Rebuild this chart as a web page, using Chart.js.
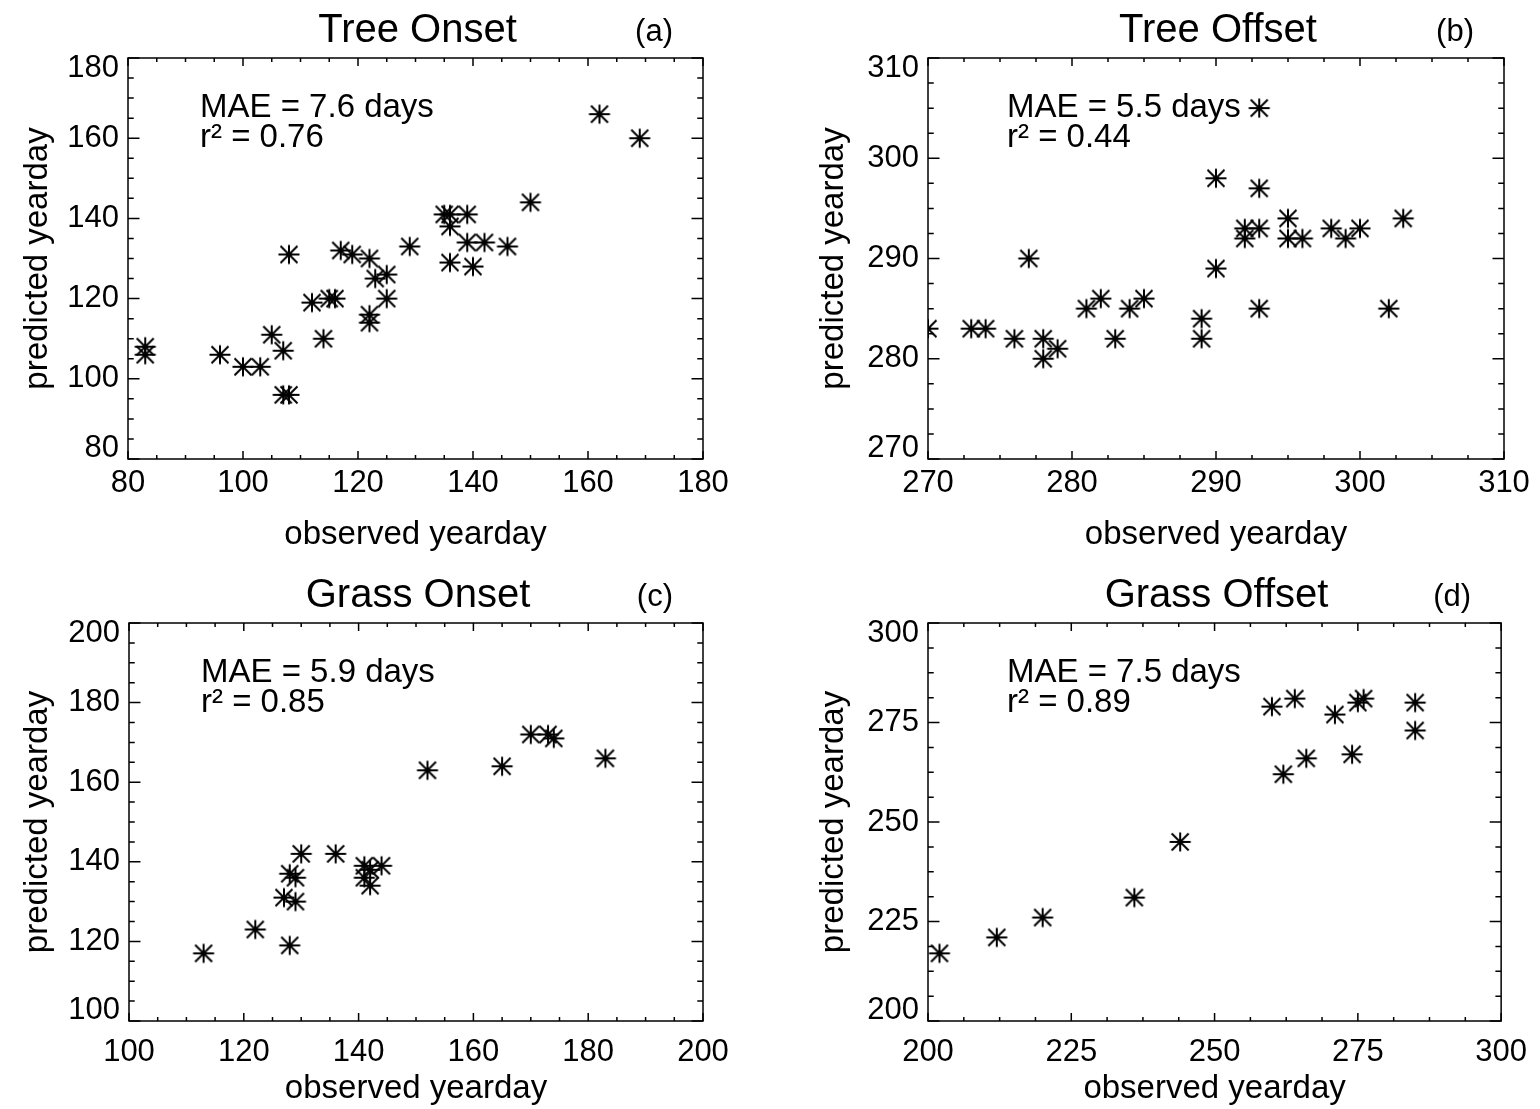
<!DOCTYPE html>
<html>
<head>
<meta charset="utf-8">
<script src="https://cdn.jsdelivr.net/npm/chart.js@4.4.1/dist/chart.umd.min.js"></script>
<style>
  body { margin: 0; background: #fff; width: 1540px; height: 1109px; overflow: hidden; position: relative; }
  canvas { position: absolute; }
</style>
</head>
<body>
<canvas id="treeOnset" width="770" height="555" style="left:0;top:0"></canvas>
<canvas id="treeOffset" width="770" height="555" style="left:770px;top:0"></canvas>
<canvas id="grassOnset" width="770" height="554" style="left:0;top:555px"></canvas>
<canvas id="grassOffset" width="770" height="554" style="left:770px;top:555px"></canvas>
<script>
// observed vs predicted yeardays
const treeOnsetObs  = [83, 83, 96, 100, 103, 105, 107, 107, 108, 108, 112, 114, 115, 116, 117, 119, 122, 122, 122, 123, 125, 125, 129, 135, 136, 136, 136, 139, 139, 140, 142, 146, 150, 162, 169];
const treeOnsetPred = [108, 106, 106, 103, 103, 111, 107, 96, 96, 131, 119, 110, 120, 120, 132, 131, 130, 116, 114, 125, 126, 120, 133, 141, 141, 138, 129, 141, 134, 128, 134, 133, 144, 166, 160];

const treeOffsetObs  = [270, 273, 274, 276, 277, 278, 278, 279, 281, 282, 283, 284, 285, 289, 289, 290, 290, 292, 292, 293, 293, 293, 293, 295, 295, 296, 298, 299, 300, 302, 303];
const treeOffsetPred = [283, 283, 283, 282, 290, 282, 280, 281, 285, 286, 282, 285, 286, 284, 282, 298, 289, 293, 292, 293, 297, 285, 305, 294, 292, 292, 293, 292, 293, 285, 294];

const grassOnsetObs  = [113, 122, 127, 128, 128, 129, 129, 130, 136, 141, 141, 142, 142, 144, 152, 165, 170, 173, 174, 183];
const grassOnsetPred = [117, 123, 131, 137, 119, 136, 130, 142, 142, 139, 136, 138, 134, 139, 163, 164, 172, 172, 171, 166];

const grassOffsetObs  = [202, 212, 220, 236, 244, 260, 262, 264, 266, 271, 274, 275, 276, 285, 285];
const grassOffsetPred = [217, 221, 226, 231, 245, 279, 262, 281, 266, 277, 267, 280, 281, 280, 273];

const panelTitles  = ['Tree Onset', 'Tree Offset', 'Grass Onset', 'Grass Offset'];
const panelLetters = ['(a)', '(b)', '(c)', '(d)'];
const maeTexts     = ['MAE = 7.6 days', 'MAE = 5.5 days', 'MAE = 5.9 days', 'MAE = 7.5 days'];
const r2Texts      = ['r\u00B2 = 0.76', 'r\u00B2 = 0.44', 'r\u00B2 = 0.85', 'r\u00B2 = 0.89'];

// axis ranges and tick spacing (same for x and y in each panel)
const axisMin   = [80, 270, 100, 200];
const axisMax   = [180, 310, 200, 300];
const majorStep = [20, 10, 20, 25];
const minorStep = [5, 2.5, 5, 6.25];

const FONT = '"Liberation Sans", Arial, Helvetica, sans-serif';
Chart.defaults.font.family = FONT;
Chart.defaults.color = '#000';

// IDL style asterisk symbol
function asterisk() {
    let c = document.createElement('canvas');
    c.width = 24; c.height = 24;
    let g = c.getContext('2d');
    g.strokeStyle = '#000';
    g.lineWidth = 2;
    g.beginPath();
    g.moveTo(1.5, 12); g.lineTo(22.5, 12);
    g.moveTo(12, 2.5); g.lineTo(12, 21.5);
    g.moveTo(3.5, 3.5); g.lineTo(20.5, 20.5);
    g.moveTo(3.5, 20.5); g.lineTo(20.5, 3.5);
    g.stroke();
    return c;
}
const star = asterisk();

// frame with inward ticks on all four sides, y labels, titles and notes
const framePlugin = {
    id: 'frame',
    afterDraw(chart, args, o) {
        const {ctx, chartArea: a, scales: {x, y}} = chart;
        const w = a.right - a.left, h = a.bottom - a.top;
        ctx.save();
        ctx.strokeStyle = '#000';
        ctx.lineWidth = 1.5;
        ctx.strokeRect(a.left, a.top, w, h);

        ctx.beginPath();
        let n = Math.round((x.max - x.min) / o.minor);
        for (let i = 0; i <= n; i++) {
            let v = x.min + i * o.minor;
            let px = x.getPixelForValue(v);
            let len = (i % Math.round(o.major / o.minor) === 0) ? h * 0.02 : h * 0.01;
            ctx.moveTo(px, a.bottom); ctx.lineTo(px, a.bottom - len);
            ctx.moveTo(px, a.top); ctx.lineTo(px, a.top + len);
        }
        n = Math.round((y.max - y.min) / o.minor);
        for (let i = 0; i <= n; i++) {
            let v = y.min + i * o.minor;
            let py = y.getPixelForValue(v);
            let len = (i % Math.round(o.major / o.minor) === 0) ? w * 0.02 : w * 0.01;
            ctx.moveTo(a.left, py); ctx.lineTo(a.left + len, py);
            ctx.moveTo(a.right, py); ctx.lineTo(a.right - len, py);
        }
        ctx.stroke();

        ctx.fillStyle = '#000';
        // y tick labels, end labels kept inside the axis range
        ctx.font = '31px ' + FONT;
        ctx.textAlign = 'right';
        ctx.textBaseline = 'middle';
        y.ticks.forEach(t => {
            let py = y.getPixelForValue(t.value);
            py = Math.min(Math.max(py, a.top + 10), a.bottom - 11);
            ctx.fillText(String(t.value), a.left - 9, py);
        });

        ctx.textBaseline = 'alphabetic';
        ctx.textAlign = 'center';
        ctx.font = '40px ' + FONT;
        ctx.fillText(o.title, (a.left + a.right) / 2 + 2, a.top - 16);
        ctx.textAlign = 'right';
        ctx.font = '31px ' + FONT;
        ctx.fillText(o.letter, a.right - 30, a.top - 17);

        ctx.textAlign = 'left';
        ctx.font = '33px ' + FONT;
        ctx.fillText(o.mae, a.left + o.noteX, a.top + 59);
        ctx.fillText(o.r2, a.left + o.noteX, a.top + 89);
        ctx.restore();
    }
};

const panels = [
    {id: 'treeOnset',   obs: treeOnsetObs,   pred: treeOnsetPred,   padTop: 58, padRight: 67, yW: 128, xH: 96, yTitlePad: 18, xTickPad: 6,  noteX: 72},
    {id: 'treeOffset',  obs: treeOffsetObs,  pred: treeOffsetPred,  padTop: 58, padRight: 36, yW: 158, xH: 96, yTitlePad: 44, xTickPad: 6,  noteX: 79},
    {id: 'grassOnset',  obs: grassOnsetObs,  pred: grassOnsetPred,  padTop: 68, padRight: 67, yW: 129, xH: 88, yTitlePad: 18, xTickPad: 13, noteX: 72},
    {id: 'grassOffset', obs: grassOffsetObs, pred: grassOffsetPred, padTop: 68, padRight: 36, yW: 158, xH: 88, yTitlePad: 44, xTickPad: 13, noteX: 79}
];

panels.forEach((p, i) => {
    let ctx = document.getElementById(p.id).getContext('2d');
    new Chart(ctx, {
        type: 'scatter',
        data: {
            datasets: [{
                data: p.obs.map((v, k) => ({x: v, y: p.pred[k]})),
                pointStyle: star,
                pointRadius: 10,
                borderColor: '#000',
                clip: 0
            }]
        },
        options: {
            responsive: false,
            animation: false,
            devicePixelRatio: 1,
            events: [],
            layout: {padding: {left: 0, top: p.padTop, right: p.padRight, bottom: 0}},
            plugins: {
                legend: {display: false},
                tooltip: {enabled: false},
                frame: {
                    title: panelTitles[i], letter: panelLetters[i],
                    mae: maeTexts[i], r2: r2Texts[i],
                    major: majorStep[i], minor: minorStep[i], noteX: p.noteX
                }
            },
            scales: {
                x: {
                    type: 'linear', min: axisMin[i], max: axisMax[i],
                    afterFit: s => { s.height = p.xH; },
                    grid: {display: false, drawTicks: false},
                    border: {display: false},
                    ticks: {stepSize: majorStep[i], font: {size: 31}, color: '#000', padding: p.xTickPad, maxRotation: 0, autoSkip: false},
                    title: {display: true, text: 'observed yearday', font: {size: 33}, color: '#000', padding: 0}
                },
                y: {
                    type: 'linear', min: axisMin[i], max: axisMax[i],
                    afterFit: s => { s.width = p.yW; },
                    grid: {display: false, drawTicks: false},
                    border: {display: false},
                    ticks: {stepSize: majorStep[i], display: false},
                    title: {display: true, text: 'predicted yearday', font: {size: 33}, color: '#000', padding: {top: p.yTitlePad, bottom: 0}}
                }
            }
        },
        plugins: [framePlugin]
    });
});
</script>
</body>
</html>
